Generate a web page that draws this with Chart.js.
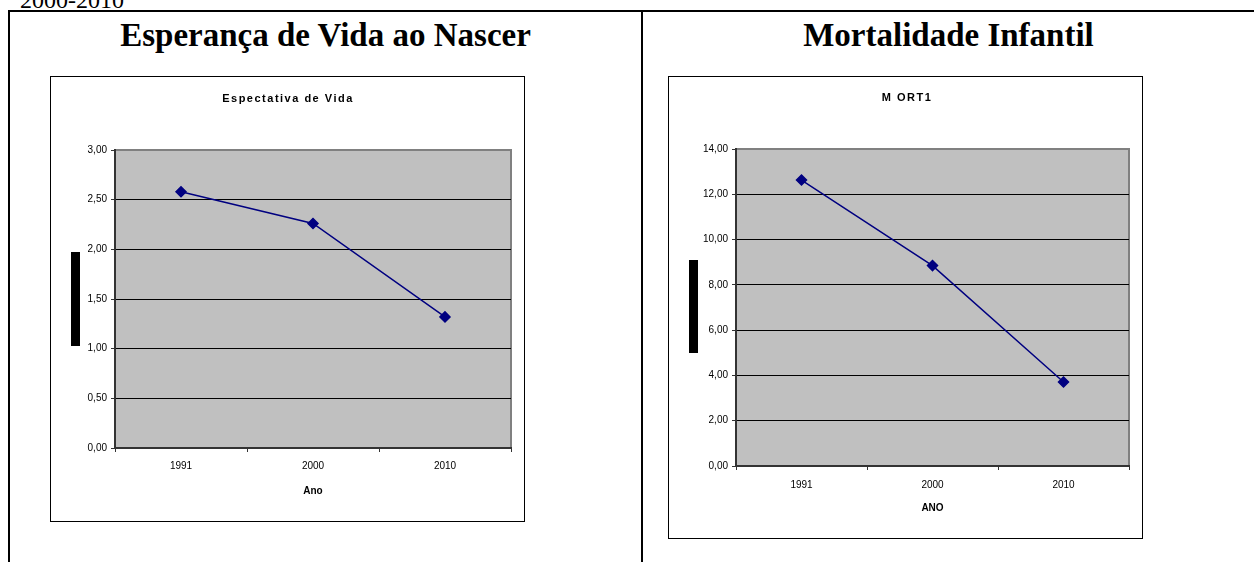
<!DOCTYPE html>
<html>
<head>
<meta charset="utf-8">
<script src="https://cdn.jsdelivr.net/npm/chart.js"></script>
<style>
  body { margin: 0; width: 1254px; height: 562px; background: #fff; position: relative; overflow: hidden; font-family: "Liberation Serif", "Times New Roman", serif; }
  .abs { position: absolute; }
  .line { position: absolute; background: #000; }
  .head { position: absolute; top: 19px; font-weight: bold; font-size: 33px; line-height: 33px; text-align: center; }
  .bar { position: absolute; background: #000; }
</style>
</head>
<body>
<div class="abs" style="left:20px; top:-12px; font-size:24px; line-height:24px;">2000-2010</div>
<div class="line" style="left:8px; top:10px; width:1246px; height:2px;"></div>
<div class="line" style="left:8px; top:10px; width:2px; height:552px;"></div>
<div class="line" style="left:641px; top:10px; width:2px; height:552px;"></div>

<div class="head" style="left:10px; width:631px;">Esperança de Vida ao Nascer</div>
<div class="head" style="left:643px; width:611px;">Mortalidade Infantil</div>

<canvas id="vida" class="abs" width="475" height="446" style="left:50px; top:76px;"></canvas>
<canvas id="mort" class="abs" width="475" height="463" style="left:668px; top:76px;"></canvas>

<div class="bar" style="left:71px; top:252px; width:9px; height:94px;"></div>
<div class="bar" style="left:689px; top:260px; width:9px; height:93px;"></div>

<script>
// data
const years = ['1991', '2000', '2010'];
const vidaValues = [2.58, 2.26, 1.32];
const mortValues = [12.63, 8.85, 3.71];
const vidaMax = 3, vidaStep = 0.5;
const mortMax = 14, mortStep = 2;

const FONT = '"Liberation Sans", Arial, sans-serif';

// grey plot area, box border and the spaced-out chart title
const frame = {
  id: 'frame',
  beforeDraw(chart) {
    const { ctx, chartArea: a } = chart;
    ctx.save();
    ctx.fillStyle = '#c0c0c0';
    ctx.fillRect(a.left, a.top, a.width, a.height);
    ctx.strokeStyle = '#808080';
    ctx.lineWidth = 2;
    ctx.strokeRect(a.left, a.top, a.width, a.height);
    ctx.restore();
  },
  afterDraw(chart, args, opts) {
    const ctx = chart.ctx;
    ctx.save();
    ctx.strokeStyle = '#000';
    ctx.lineWidth = 1;
    ctx.strokeRect(0.5, 0.5, chart.width - 1, chart.height - 1);
    ctx.font = 'bold 11px ' + FONT;
    ctx.letterSpacing = '1.5px';
    ctx.fillStyle = '#000';
    ctx.textAlign = 'center';
    ctx.textBaseline = 'middle';
    ctx.fillText(opts.text, opts.x, opts.y);
    ctx.restore();
  }
};

function makeChart(id, title, xTitle, values, yMax, yStep, d) {
  new Chart(document.getElementById(id), {
    type: 'line',
    data: {
      labels: years,
      datasets: [{
        data: values,
        borderColor: '#000080',
        borderWidth: 1.5,
        pointStyle: 'rectRot',
        pointRadius: 5,
        pointBackgroundColor: '#000080',
        pointBorderColor: '#000080',
        tension: 0
      }]
    },
    options: {
      responsive: false,
      animation: false,
      layout: { padding: { left: 0, right: 14, top: d.top, bottom: 0 } },
      plugins: {
        legend: { display: false },
        tooltip: { enabled: false },
        frame: { text: title, x: d.titleX, y: d.titleY }
      },
      scales: {
        x: {
          offset: true,
          afterFit: s => { s.height = d.xHeight; },
          grid: { offset: true, drawOnChartArea: false, drawTicks: true, tickLength: 4, tickColor: '#333' },
          border: { color: '#333', width: 2 },
          ticks: { color: '#000', font: { family: FONT, size: 10 }, padding: d.xPad },
          title: {
            display: true,
            text: xTitle,
            color: '#000',
            font: { family: FONT, size: 10, weight: 'bold', lineHeight: 1.2 },
            padding: { top: 0, bottom: 25 }
          }
        },
        y: {
          min: 0,
          max: yMax,
          afterFit: s => { s.width = d.yWidth; },
          grid: {
            color: c => (c.tick && c.tick.value === yMax) ? 'rgba(0,0,0,0)' : '#000',
            lineWidth: 1,
            tickLength: 4,
            tickColor: '#333'
          },
          border: { color: '#333', width: 2 },
          ticks: {
            stepSize: yStep,
            color: '#000',
            padding: 4,
            font: { family: FONT, size: 10 },
            callback: v => v.toFixed(2).replace('.', ',')
          }
        }
      }
    },
    plugins: [frame]
  });
}

makeChart('vida', 'Espectativa de Vida', 'Ano', vidaValues, vidaMax, vidaStep,
  { top: 74, titleX: 238, titleY: 23, xHeight: 74, xPad: 8, yWidth: 65 });
makeChart('mort', 'M ORT1', 'ANO', mortValues, mortMax, mortStep,
  { top: 73, titleX: 239, titleY: 22, xHeight: 73, xPad: 9, yWidth: 68 });
</script>
</body>
</html>
